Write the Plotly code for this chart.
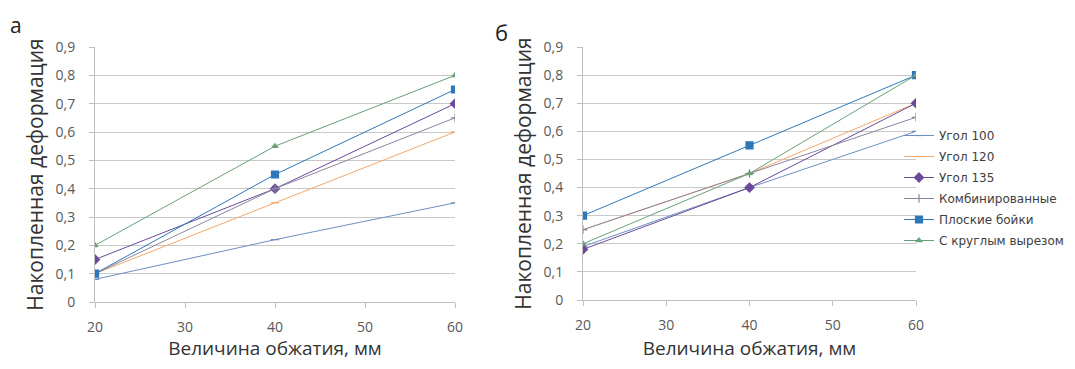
import plotly.graph_objects as go

x_vals = [20, 40, 60]
series_names = ["Угол 100", "Угол 120", "Угол 135", "Комбинированные", "Плоские бойки", "С круглым вырезом"]

# Chart а
a_ugol100 = [0.08, 0.22, 0.35]
a_ugol120 = [0.10, 0.35, 0.60]
a_ugol135 = [0.15, 0.40, 0.70]
a_komb = [0.10, 0.40, 0.65]
a_ploskie = [0.10, 0.45, 0.75]
a_krugly = [0.20, 0.55, 0.80]

# Chart б
b_ugol100 = [0.19, 0.40, 0.60]
b_ugol120 = [0.25, 0.45, 0.70]
b_ugol135 = [0.18, 0.40, 0.70]
b_komb = [0.25, 0.45, 0.65]
b_ploskie = [0.30, 0.55, 0.80]
b_krugly = [0.20, 0.45, 0.80]

colors = ["#6f8fc0", "#f4a76a", "#6a4a9a", "#8a86a0", "#2d78b8", "#6aa078"]
symbols = ["line-ew-open", "line-ew-open", "diamond", "cross-thin-open", "square", "triangle-up"]
sizes = [6, 6, 7, 6, 7, 5]

a_data = [a_ugol100, a_ugol120, a_ugol135, a_komb, a_ploskie, a_krugly]
b_data = [b_ugol100, b_ugol120, b_ugol135, b_komb, b_ploskie, b_krugly]

fig = go.Figure()
for i, name in enumerate(series_names):
    fig.add_trace(go.Scatter(
        x=x_vals, y=a_data[i], name=name, mode="lines+markers",
        line=dict(color=colors[i], width=1),
        marker=dict(symbol=symbols[i], size=sizes[i], color=colors[i], line=dict(color=colors[i], width=1.2)),
        xaxis="x", yaxis="y", showlegend=False))
for i, name in enumerate(series_names):
    fig.add_trace(go.Scatter(
        x=x_vals, y=b_data[i], name=name, mode="lines+markers",
        line=dict(color=colors[i], width=1),
        marker=dict(symbol=symbols[i], size=sizes[i], color=colors[i], line=dict(color=colors[i], width=1.2)),
        xaxis="x2", yaxis="y2", showlegend=True, legendgroup=name))

# page has an 8px body margin, so the figure is drawn at (8, 8)
OFF = 8
W, H = 1075 - 2 * OFF, 369 - 2 * OFF

def fx(px):
    return (px - OFF) / W

def fy(py):
    return 1 - (py - OFF) / H

FONT = "Open Sans, Liberation Sans, sans-serif"
tickfont = dict(family=FONT, size=14, color="#595959")

def xaxis_cfg(domain, anchor):
    return dict(domain=domain, anchor=anchor, range=[20, 60], tick0=20, dtick=10,
                showgrid=False, showline=True, linecolor="#bfbfbf", linewidth=1,
                ticks="outside", ticklen=5, tickcolor="#bfbfbf", tickfont=tickfont,
                ticklabelstandoff=7, zeroline=False, automargin=False,
                title=dict(text="Величина обжатия, мм",
                           font=dict(family=FONT, size=19, color="#333333"), standoff=16))

def yaxis_cfg(domain, anchor):
    return dict(domain=domain, anchor=anchor, range=[0, 0.9], tick0=0, dtick=0.1,
                showgrid=True, gridcolor="#c8c8c8", gridwidth=1,
                showline=True, linecolor="#bfbfbf", linewidth=1,
                ticks="outside", ticklen=5, tickcolor="#bfbfbf", tickfont=tickfont,
                ticklabelstandoff=11, zeroline=False, automargin=False,
                title=dict(text="Накопленная деформация",
                           font=dict(family=FONT, size=21, color="#333333"), standoff=6))

fig.update_layout(
    width=W, height=H,
    margin=dict(l=0, r=0, t=0, b=0, autoexpand=False),
    paper_bgcolor="white", plot_bgcolor="white",
    separators=", ",
    xaxis=xaxis_cfg([fx(95), fx(455)], "y"),
    yaxis=yaxis_cfg([fy(302), fy(47)], "x"),
    xaxis2=xaxis_cfg([fx(583), fx(916)], "y2"),
    yaxis2=yaxis_cfg([fy(300), fy(47)], "x2"),
    legend=dict(x=fx(899), y=fy(121), xanchor="left", yanchor="top",
                font=dict(family="DejaVu Sans, sans-serif", size=12, color="#404040"),
                bgcolor="rgba(0,0,0,0)", tracegroupgap=2, itemwidth=30),
    annotations=[
        dict(text="а", x=fx(16), y=fy(25), xref="paper", yref="paper", showarrow=False,
             xanchor="center", yanchor="middle", font=dict(family=FONT, size=21, color="#222")),
        dict(text="б", x=fx(501), y=fy(32), xref="paper", yref="paper", showarrow=False,
             xanchor="center", yanchor="middle", font=dict(family=FONT, size=22, color="#222")),
    ],
)

fig.write_html("out.html")
